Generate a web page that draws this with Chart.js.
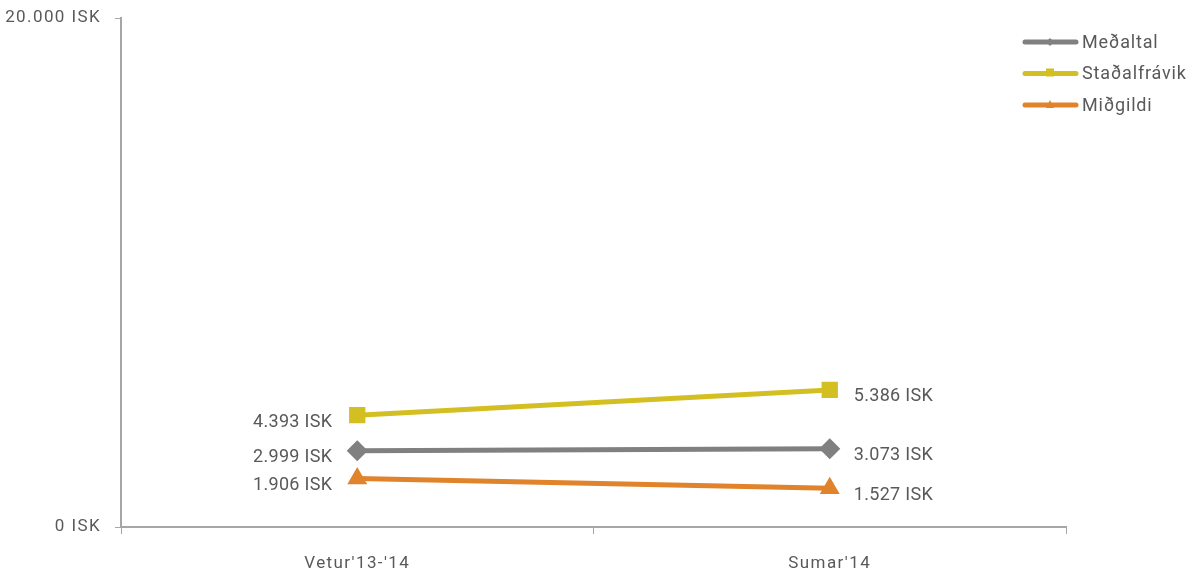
<!DOCTYPE html>
<html>
<head>
<meta charset="utf-8">
<script src="https://cdn.jsdelivr.net/npm/chart.js@4"></script>
<style>
  html, body { margin: 0; padding: 0; background: #fff; }
  #wrap { width: 1195px; height: 574px; }
</style>
</head>
<body>
<div id="wrap"><canvas id="chart" width="1195" height="574"></canvas></div>
<script>
// gögn úr myndinni
const timabil = ["Vetur'13-'14", "Sumar'14"];
const medaltal = [2999, 3073];
const stadalfravik = [4393, 5386];
const midgildi = [1906, 1527];
const yTicks = [0, 20000];

const grar = '#808080';
const gulur = '#D4BF22';
const appelsinugulur = '#E0832B';
const textalitur = '#595959';
const leturgerd = 'Roboto, "DejaVu Sans", sans-serif';

function isk(v) {
    return v.toLocaleString('de-DE') + ' ISK';
}

// breiðara letur á ásunum eins og í frummyndinni
const bilPlugin = {
    id: 'bil',
    beforeDraw(chart) {
        chart.ctx.letterSpacing = '1.4px';
    }
};

// gildi við punktana: fyrsta vinstra megin, seinna hægra megin
const gildiPlugin = {
    id: 'gildi',
    afterDatasetsDraw(chart) {
        const ctx = chart.ctx;
        ctx.save();
        ctx.letterSpacing = '0.3px';
        ctx.font = '18px ' + leturgerd;
        ctx.fillStyle = textalitur;
        ctx.textBaseline = 'middle';
        chart.data.datasets.forEach((ds, i) => {
            const meta = chart.getDatasetMeta(i);
            meta.data.forEach((pt, j) => {
                const txt = isk(ds.data[j]);
                if (j === 0) {
                    ctx.textAlign = 'right';
                    ctx.fillText(txt, pt.x - 25, pt.y + 7);
                } else {
                    ctx.textAlign = 'left';
                    ctx.fillText(txt, pt.x + 24, pt.y + 7);
                }
            });
        });
        ctx.restore();
    }
};

// skýringar efst til hægri
const skyringPlugin = {
    id: 'skyring',
    afterDraw(chart) {
        const ctx = chart.ctx;
        ctx.save();
        chart.data.datasets.forEach((ds, i) => {
            const y = 42 + i * 31.5;
            ctx.strokeStyle = ds.borderColor;
            ctx.lineWidth = 5;
            ctx.lineCap = 'round';
            ctx.beginPath();
            ctx.moveTo(1025, y);
            ctx.lineTo(1076, y);
            ctx.stroke();
            ctx.fillStyle = ds.borderColor;
            const cx = 1050;
            if (ds.pointStyle === 'rectRot') {
                ctx.beginPath();
                ctx.moveTo(cx, y - 4); ctx.lineTo(cx + 4, y); ctx.lineTo(cx, y + 4); ctx.lineTo(cx - 4, y);
                ctx.closePath(); ctx.fill();
            } else if (ds.pointStyle === 'rect') {
                ctx.fillRect(cx - 4, y - 5, 8, 8);
            } else {
                ctx.beginPath();
                ctx.moveTo(cx, y - 5); ctx.lineTo(cx + 4, y + 3); ctx.lineTo(cx - 4, y + 3);
                ctx.closePath(); ctx.fill();
            }
            ctx.fillStyle = textalitur;
            ctx.letterSpacing = '0.8px';
            ctx.font = '18px ' + leturgerd;
            ctx.textAlign = 'left';
            ctx.textBaseline = 'middle';
            ctx.fillText(ds.label, 1082, y + 1);
        });
        ctx.restore();
    }
};

new Chart(document.getElementById('chart'), {
    type: 'line',
    data: {
        labels: timabil,
        datasets: [
            {
                label: 'Meðaltal', data: medaltal,
                borderColor: grar, backgroundColor: grar,
                borderWidth: 5, pointStyle: 'rectRot', pointRadius: 7
            },
            {
                label: 'Staðalfrávik', data: stadalfravik,
                borderColor: gulur, backgroundColor: gulur,
                borderWidth: 5, pointStyle: 'rect', pointRadius: 8
            },
            {
                label: 'Miðgildi', data: midgildi,
                borderColor: appelsinugulur, backgroundColor: appelsinugulur,
                borderWidth: 5, pointStyle: 'triangle', pointRadius: 6.5
            }
        ]
    },
    options: {
        responsive: false,
        animation: false,
        layout: { padding: { top: 18, right: 129, left: 0, bottom: 0 } },
        plugins: {
            legend: { display: false },
            tooltip: { enabled: false }
        },
        scales: {
            x: {
                offset: true,
                grid: { drawOnChartArea: false, color: '#a6a6a6', tickLength: 7, offset: true },
                border: { color: '#a6a6a6', width: 2 },
                ticks: { color: textalitur, font: { family: leturgerd, size: 17 }, padding: 20, maxRotation: 0 },
                afterFit(scale) { scale.height = 47; }
            },
            y: {
                min: yTicks[0],
                max: yTicks[1],
                afterBuildTicks(scale) { scale.ticks = yTicks.map(v => ({ value: v })); },
                grid: { drawOnChartArea: false, color: '#a6a6a6', tickLength: 6 },
                border: { color: '#a6a6a6', width: 2 },
                ticks: {
                    color: textalitur, font: { family: leturgerd, size: 17 }, padding: 14,
                    callback: v => isk(v)
                },
                afterFit(scale) {
                    scale.width = 121;
                    scale.paddingTop = 0;
                    scale.paddingBottom = 0;
                }
            }
        }
    },
    plugins: [bilPlugin, gildiPlugin, skyringPlugin]
});
</script>
</body>
</html>
